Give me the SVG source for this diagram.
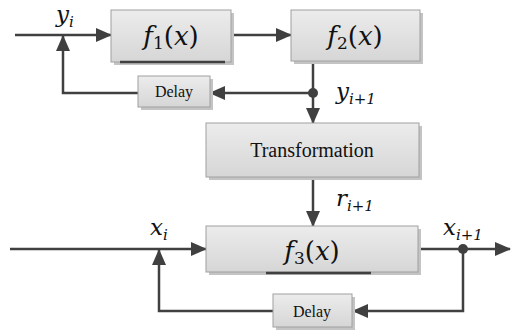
<svg xmlns="http://www.w3.org/2000/svg" width="516" height="330" viewBox="0 0 516 330">
<defs>
<linearGradient id="g" x1="0" y1="0" x2="0" y2="1">
<stop offset="0" stop-color="#ececec"/>
<stop offset="1" stop-color="#d6d6d6"/>
</linearGradient>
<marker id="ah" markerUnits="userSpaceOnUse" markerWidth="16" markerHeight="14" refX="15" refY="7" orient="auto">
<path d="M0,0 L16,7 L0,14 Z" fill="#404040"/>
</marker>
</defs>
<rect width="516" height="330" fill="#fff"/>
<g id="connectors" fill="none" stroke="#404040" stroke-width="2.5">
<path d="M15,35 H111" marker-end="url(#ah)"/>
<path d="M138,93 H63 V36" marker-end="url(#ah)"/>
<path d="M231,35 H291" marker-end="url(#ah)"/>
<path d="M313,62 V123" marker-end="url(#ah)"/>
<path d="M313,93 H210" marker-end="url(#ah)"/>
<path d="M313,177 V226" marker-end="url(#ah)"/>
<path d="M10,249 H206" marker-end="url(#ah)"/>
<path d="M273,311 H159 V250" marker-end="url(#ah)"/>
<path d="M418,249 H510" marker-end="url(#ah)"/>
<path d="M463,249 V311 H353" marker-end="url(#ah)"/>
<circle cx="313" cy="93" r="5" fill="#404040" stroke="none"/>
<circle cx="463" cy="249" r="5" fill="#404040" stroke="none"/>
</g>
<g id="labels" font-family="DejaVu Serif" font-style="italic" fill="#111">
<text x="56" y="22" font-size="23">y<tspan font-size="15" dy="5">i</tspan></text>
<text x="336" y="99" font-size="23">y<tspan font-size="15" dy="5">i+1</tspan></text>
<text x="336" y="206" font-size="23">r<tspan font-size="15" dy="5">i+1</tspan></text>
<text x="150" y="235" font-size="23">x<tspan font-size="15" dy="5">i</tspan></text>
<text x="443" y="235" font-size="23">x<tspan font-size="15" dy="5">i+1</tspan></text>
</g>
<g id="f1">
<rect x="114" y="13" width="120" height="52" fill="#c4c4c4"/>
<rect x="111" y="10" width="120" height="52" fill="url(#g)" stroke="#a0a0a0"/>
<line x1="120" y1="62" x2="225" y2="62" stroke="#404040" stroke-width="2.5"/>
<text font-family="DejaVu Serif" font-style="italic" fill="#111" x="171" y="45" font-size="26" text-anchor="middle">f<tspan font-size="17" dy="4" font-style="normal">1</tspan><tspan dy="-4" font-style="normal">(</tspan>x<tspan font-style="normal">)</tspan></text>
</g>
<g id="f2">
<rect x="294" y="13" width="129" height="51" fill="#c4c4c4"/>
<rect x="291" y="10" width="129" height="51" fill="url(#g)" stroke="#a0a0a0"/>
<text font-family="DejaVu Serif" font-style="italic" fill="#111" x="355" y="45" font-size="26" text-anchor="middle">f<tspan font-size="17" dy="4" font-style="normal">2</tspan><tspan dy="-4" font-style="normal">(</tspan>x<tspan font-style="normal">)</tspan></text>
</g>
<g id="delay1">
<rect x="141" y="79" width="72" height="31" fill="#c4c4c4"/>
<rect x="138" y="76" width="72" height="31" fill="url(#g)" stroke="#a0a0a0"/>
<text font-family="Liberation Serif" fill="#111" text-anchor="middle" x="174" y="97" font-size="16">Delay</text>
</g>
<g id="transformation">
<rect x="209" y="126" width="213" height="54" fill="#c4c4c4"/>
<rect x="206" y="123" width="213" height="54" fill="url(#g)" stroke="#a0a0a0"/>
<text font-family="Liberation Serif" fill="#111" text-anchor="middle" x="312" y="157" font-size="20">Transformation</text>
</g>
<g id="f3">
<rect x="209" y="229" width="212" height="46" fill="#c4c4c4"/>
<rect x="206" y="226" width="212" height="46" fill="url(#g)" stroke="#a0a0a0"/>
<line x1="266" y1="273" x2="371" y2="273" stroke="#404040" stroke-width="2.5"/>
<text font-family="DejaVu Serif" font-style="italic" fill="#111" x="312" y="260" font-size="26" text-anchor="middle">f<tspan font-size="17" dy="4" font-style="normal">3</tspan><tspan dy="-4" font-style="normal">(</tspan>x<tspan font-style="normal">)</tspan></text>
</g>
<g id="delay2">
<rect x="276" y="297" width="79" height="33" fill="#c4c4c4"/>
<rect x="273" y="294" width="79" height="33" fill="url(#g)" stroke="#a0a0a0"/>
<text font-family="Liberation Serif" fill="#111" text-anchor="middle" x="312" y="317" font-size="16">Delay</text>
</g>
</svg>
